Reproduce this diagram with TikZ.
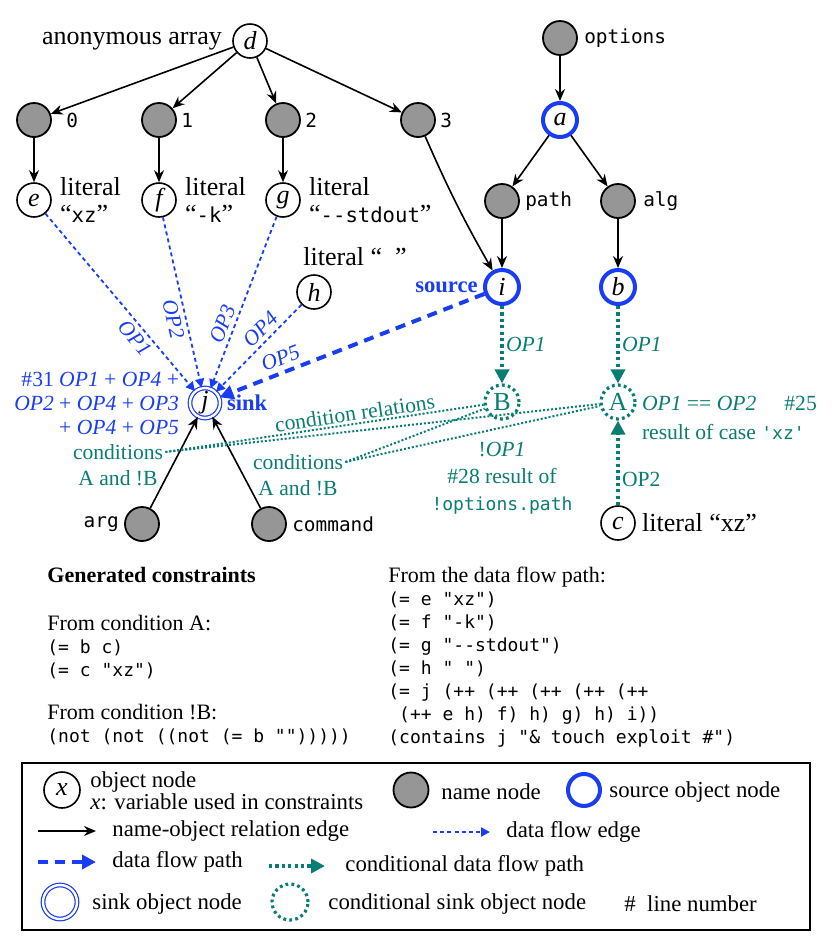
\documentclass[tikz,border=0pt]{standalone}
\usepackage{fontspec}
\setmainfont{Liberation Serif}
\setmonofont{DejaVu Sans Mono}
\usetikzlibrary{positioning, arrows.meta}

\definecolor{flowblue}{RGB}{25,60,245}
\definecolor{condteal}{RGB}{10,125,115}
\definecolor{namegray}{RGB}{150,150,150}

\newcommand{\bigtxt}{\fontsize{13}{13.5}\selectfont}
\newcommand{\notetxt}{\fontsize{10.8}{12}\selectfont}
\newcommand{\monotxt}{\fontsize{9.7}{12}\selectfont\ttfamily}
\newcommand{\littt}[1]{{\fontsize{10.3}{13.5}\selectfont\ttfamily #1}}
\newcommand{\csttxt}{\fontsize{11}{11.5}\selectfont}
\newcommand{\cstmono}[1]{{\fontsize{9}{11.5}\selectfont\ttfamily #1}}
\newcommand{\notemono}[1]{{\fontsize{9}{13.5}\selectfont\ttfamily #1}}
\newcommand{\op}[1]{\textit{OP#1}}

\tikzset{
  objnode/.style={on grid, circle, draw, line width=0.8pt, minimum size=17pt, inner sep=0pt, font=\bigtxt\itshape},
  namenode/.style={on grid, circle, draw, line width=0.9pt, fill=namegray, minimum size=17pt, inner sep=0pt},
  srcnode/.style={objnode, draw=flowblue, line width=2pt},
  sinknode/.style={objnode, draw=flowblue, line width=0.6pt, double=white, double distance=1.2pt, minimum size=15pt},
  condnode/.style={on grid, circle, draw=condteal, line width=1.6pt, dash pattern=on 1.4pt off 1.6pt, minimum size=17pt, inner sep=0pt, text=condteal, font=\bigtxt},
  relarrow/.style={-{Stealth[length=6pt, width=5pt]}, line width=0.8pt},
  flowedge/.style={-{Triangle[length=4.5pt, width=4.5pt]}, draw=flowblue, line width=0.9pt, dash pattern=on 2pt off 1.6pt},
  flowpath/.style={-{Triangle[length=7pt, width=7pt]}, draw=flowblue, line width=2pt, dash pattern=on 5pt off 3.5pt},
  condpath/.style={-{Triangle[length=7pt, width=7pt]}, draw=condteal, line width=2pt, dash pattern=on 1.6pt off 1.6pt},
  condrel/.style={draw=condteal, line width=1pt, dash pattern=on 1pt off 1pt},
  lbl/.style={inner sep=1pt, font=\bigtxt},
  tttag/.style={inner sep=1pt, font=\monotxt},
  flowlbl/.style={inner sep=1pt, text=flowblue, font=\notetxt\itshape, sloped},
  condlbl/.style={inner sep=1pt, text=condteal, font=\notetxt},
  cstlbl/.style={inner sep=0pt, anchor=north west, align=left, font=\csttxt},
  keylbl/.style={inner sep=0pt, anchor=west, align=left, font=\fontsize{11.4}{11}\selectfont},
}

\begin{document}
\begin{tikzpicture}[x=0.5pt, y=-0.5pt]
    \useasboundingbox (0,0) rectangle (832,938);

    % anonymous array and its elements
    \node [objnode] (d) at (250,41) {d};
    \node [lbl, left=4pt of d] (dlbl) {anonymous array};
    \node [namenode, below left=39.5pt and 108pt of d] (n0) {};
    \node [namenode, below left=39.5pt and 45.5pt of d] (n1) {};
    \node [namenode, below right=39.5pt and 16.5pt of d] (n2) {};
    \node [namenode, below right=39.5pt and 84pt of d] (n3) {};
    \node [tttag, right=6pt of n0] (n0lbl) {0};
    \node [tttag, right=1pt of n1] (n1lbl) {1};
    \node [tttag, right=1pt of n2] (n2lbl) {2};
    \node [tttag, right=1pt of n3] (n3lbl) {3};
    \foreach \k in {n0,n1,n2,n3}
        \draw [relarrow] (d) -- (\k);

    \node [objnode, below=40pt of n0] (e) {e};
    \node [objnode, below=40pt of n1] (f) {f};
    \node [objnode, below=40pt of n2] (g) {g};
    \node [lbl, align=left, right=3pt of e] (elbl) {literal\\“\littt{xz}”};
    \node [lbl, align=left, right=3pt of f] (flbl) {literal\\“\littt{-k}”};
    \node [lbl, align=left, right=3pt of g] (glbl) {literal\\“\littt{-{}-stdout}”};
    \draw [relarrow] (n0) -- (e);
    \draw [relarrow] (n1) -- (f);
    \draw [relarrow] (n2) -- (g);

    % options object
    \node [namenode] (options) at (560,38) {};
    \node [tttag, right=2pt of options] (optlbl) {options};
    \node [srcnode, below=41pt of options] (a) {a};
    \node [namenode, below left=40.5pt and 29pt of a] (path) {};
    \node [namenode, below right=40.5pt and 29pt of a] (alg) {};
    \node [tttag, right=1.5pt of path] (pathlbl) {path};
    \node [tttag, right=2.5pt of alg] (alglbl) {alg};
    \draw [relarrow] (options) -- (a);
    \draw [relarrow] (a) -- (path);
    \draw [relarrow] (a) -- (alg);

    \node [srcnode, below=43pt of path] (i) {i};
    \node [srcnode, below=43pt of alg] (b) {b};
    \node [lbl, left=1.5pt of i, text=flowblue, font=\fontsize{11.3}{12}\selectfont\bfseries] (srclbl) {source};
    \draw [relarrow] (path) -- (i);
    \draw [relarrow] (alg) -- (b);
    \draw [relarrow] (n3) to[bend right=3] (i);

    % sink
    \node [sinknode] (j) at (205,403) {j};
    \node [lbl, right=2pt of j, text=flowblue, font=\fontsize{11.3}{12}\selectfont\bfseries] (sinklbl) {sink};
    \node [flowlbl, sloped=false, font=\notetxt, align=right, left=4pt of j] (jlbl)
        {\#31 \op1 + \op4 +\\\op2 + \op4 + \op3\\+ \op4 + \op5};
    \node [objnode, above right=55.5pt and 54.5pt of j] (h) {h};
    \node [lbl, above=3pt of h, xshift=20.5pt] (hlbl) {literal “\ \ ”};

    \draw [flowedge] (e) -- node [flowlbl, below=1pt, pos=0.66] (op1lbl) {OP1} (j);
    \draw [flowedge] (f) -- node [flowlbl, below=1pt, pos=0.58] (op2lbl) {OP2} (j);
    \draw [flowedge] (g) -- node [flowlbl, above=1pt, pos=0.65] (op3lbl) {OP3} (j);
    \draw [flowedge] (h) -- node [flowlbl, above=1pt, pos=0.38] (op4lbl) {OP4} (j);
    \draw [flowpath] (i) -- node [flowlbl, above=1.5pt, pos=0.75] (op5lbl) {OP5} (j);

    \node [namenode, below left=60.5pt and 31.5pt of j] (arg) {};
    \node [namenode, below right=60.5pt and 32pt of j] (command) {};
    \node [tttag, left=1.5pt of arg] (arglbl) {arg};
    \node [tttag, right=1.5pt of command] (cmdlbl) {command};
    \draw [relarrow] (arg) -- (j);
    \draw [relarrow] (command) -- (j);

    % conditional sinks
    \node [condnode, below=57.5pt of i] (B) {B};
    \node [condnode, below=57.5pt of b] (A) {A};
    \node [objnode, below=60.5pt of A] (c) {c};
    \node [lbl, right=2pt of c] (clbl) {literal “xz”};
    \draw [condpath] (i) -- node [condlbl, right, font=\notetxt\itshape] (opib) {OP1} (B);
    \draw [condpath] (b) -- node [condlbl, right, font=\notetxt\itshape] (opba) {OP1} (A);
    \draw [condpath] (c) -- node [condlbl, right, pos=0.3] (opca) {OP2} (A);
    \node [condlbl, align=left, anchor=north west, font=\fontsize{10.8}{14.5}\selectfont]
        (albl) at ([xshift=1.5pt, yshift=4pt]A.east)
        {\op1 == \op2\hspace{1.3em}\#25\\result of case \notemono{'xz'}};
    \node [condlbl, align=center, below=9.5pt of B, font=\fontsize{10.8}{13.5}\selectfont] (blbl)
        {!\op1\\\#28 result of\\\notemono{!options.path}};

    \node [condlbl] (condl) at (118,452) {conditions};
    \node [condlbl, below=3pt of condl] (condlx) {A and !B};
    \node [condlbl] (condr) at (298,462) {conditions};
    \node [condlbl, below=3pt of condr] (condrx) {A and !B};
    \draw [condrel] (condl.east) -- node [condlbl, sloped, above, pos=0.6] (crlbl) {condition relations} (B);
    \draw [condrel] (condl.east) -- (A);
    \draw [condrel] (condr.east) -- (B);
    \draw [condrel] (condr.east) -- (A);

    % generated constraints
    \node [cstlbl, anchor=base west, font=\csttxt\bfseries] (gencst) at (47,582) {Generated constraints};
    \node [cstlbl] (cstA) at (47,614.5)
        {From condition A:\\\cstmono{(= b c)}\\\cstmono{(= c "xz")}};
    \node [cstlbl] (cstB) at (47,704)
        {From condition !B:\\\cstmono{(not (not ((not (= b "")))))}};
    \node [cstlbl] (cstflow) at (388,567)
        {From the data flow path:\\
         \cstmono{(= e "xz")}\\
         \cstmono{(= f "-k")}\\
         \cstmono{(= g "-{}-stdout")}\\
         \cstmono{(= h " ")}\\
         \cstmono{(= j (++ (++ (++ (++ (++}\\
         \cstmono{\hphantom{x}(++ e h) f) h) g) h) i))}\\
         \cstmono{(contains j "\& touch exploit \#")}};

    % legend
    \draw [line width=0.8pt] (22,763) rectangle (810,930);
    \node [objnode, minimum size=18pt] (kobj) at (62,790) {x};
    \node [keylbl] (kobjlbl) at (90,791) {object node\\\textit{x}: variable used in constraints};
    \node [namenode, minimum size=17.5pt] (kname) at (411,790) {};
    \node [keylbl] (knamelbl) at (441,792) {name node};
    \node [srcnode, minimum size=16pt] (ksrc) at (584,790) {};
    \node [keylbl] (ksrclbl) at (609,792) {source object node};

    \coordinate (krel0) at (38,831);
    \coordinate (krel1) at (96,831);
    \draw [relarrow] (krel0) -- (krel1);
    \node [keylbl] (krellbl) at (112,831) {name-object relation edge};
    \coordinate (kfe0) at (433,832);
    \coordinate (kfe1) at (490,832);
    \draw [flowedge] (kfe0) -- (kfe1);
    \node [keylbl] (kfelbl) at (506,832) {data flow edge};

    \coordinate (kfp0) at (38,862);
    \coordinate (kfp1) at (96,862);
    \draw [flowpath] (kfp0) -- (kfp1);
    \node [keylbl] (kfplbl) at (112,862) {data flow path};
    \coordinate (kcp0) at (269,866);
    \coordinate (kcp1) at (325,866);
    \draw [condpath] (kcp0) -- (kcp1);
    \node [keylbl] (kcplbl) at (345,866) {conditional data flow path};

    \node [sinknode, minimum size=17pt] (ksink) at (60,902) {};
    \node [keylbl] (ksinklbl) at (92,904) {sink object node};
    \node [condnode, minimum size=18pt] (kcond) at (290,902) {};
    \node [keylbl] (kcondlbl) at (328,904) {conditional sink object node};
    \node [keylbl] (khash) at (624,904) {\#\ \ line number};

\end{tikzpicture}
\end{document}
